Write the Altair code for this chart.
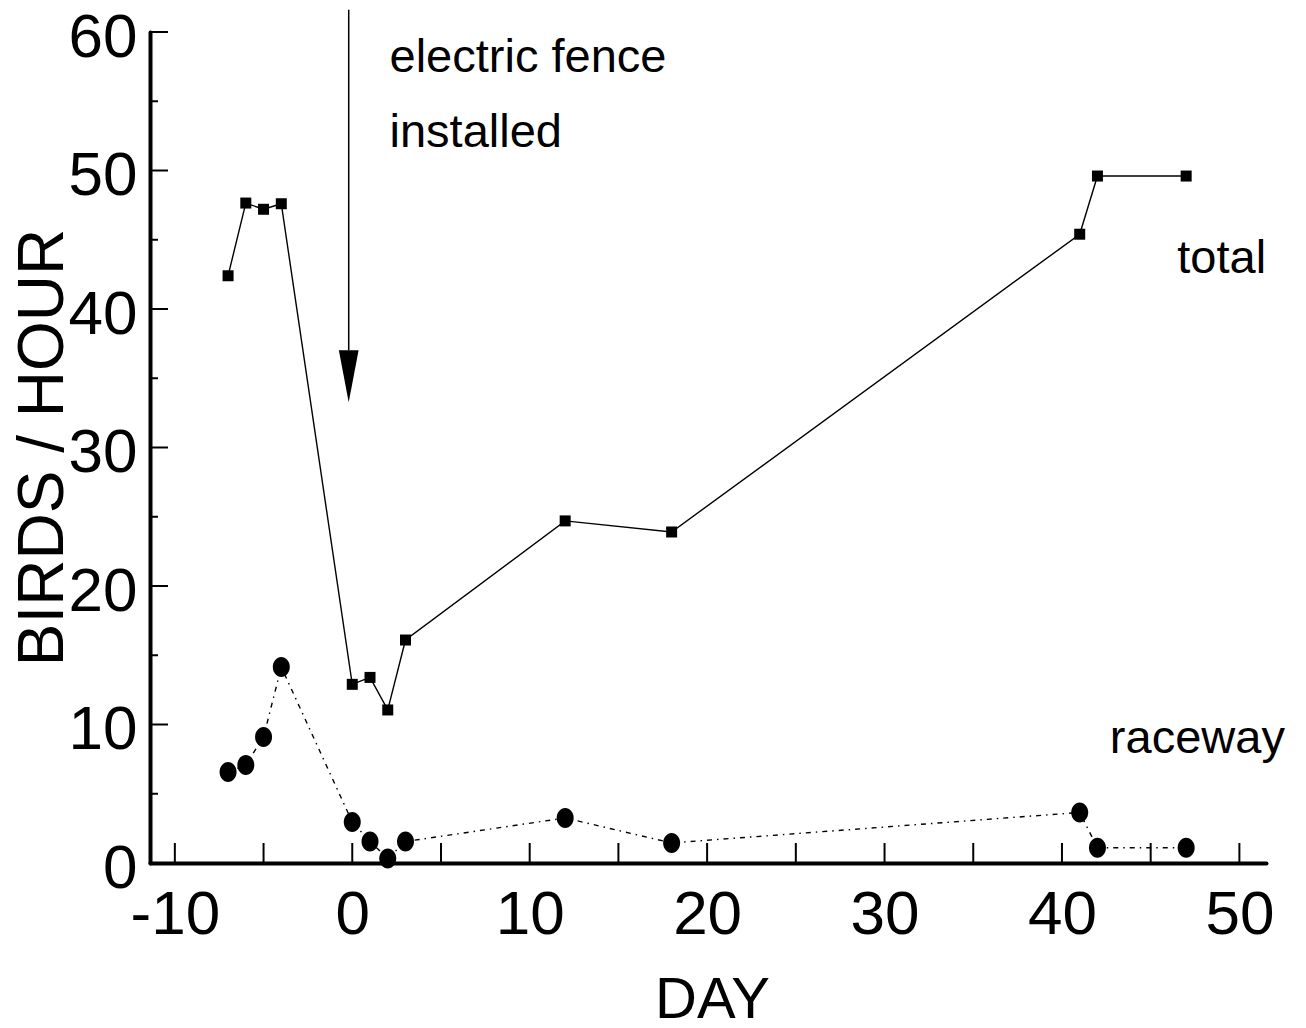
import altair as alt
import pandas as pd

# ---- data ----
days = [-7, -6, -5, -4, 0, 1, 2, 3, 12, 18, 41, 42, 47]
total = [42.4, 47.65, 47.2, 47.6, 12.9, 13.4, 11.05, 16.1, 24.7, 23.9, 45.4, 49.6, 49.6]
raceway = [6.57, 7.08, 9.1, 14.15, 2.96, 1.55, 0.33, 1.55, 3.25, 1.45, 3.65, 1.1, 1.1]

x_label_values = [-10, 0, 10, 20, 30, 40, 50]
y_label_values = [0, 10, 20, 30, 40, 50, 60]
x_tick_values = [-10, -5, 0, 5, 10, 15, 20, 25, 30, 35, 40, 45, 50]
y_major_ticks = [10, 20, 30, 40, 50, 60]
y_minor_ticks = [5, 15, 25, 35, 45, 55]

annot_text = ["electric fence", "installed", "total", "raceway"]
annot_x = [2.1, 2.1, 46.5, 42.7]
annot_y = [57.1, 51.7, 42.6, 7.94]

arrow_x = [-0.2]
arrow_top = [61.6]
arrow_head_top = [37.0]
arrow_head_mid = [35.15]

FONT = "Liberation Sans, Arial, sans-serif"

df = pd.DataFrame({"day": days, "total": total, "raceway": raceway})
xt = pd.DataFrame({"t": x_tick_values})
ymaj = pd.DataFrame({"t": y_major_ticks})
ymin = pd.DataFrame({"t": y_minor_ticks})
ann = pd.DataFrame({"text": annot_text, "x": annot_x, "y": annot_y})
arr = pd.DataFrame({"x": arrow_x, "y": arrow_top, "y2": arrow_head_top, "ym": arrow_head_mid})

xscale = alt.Scale(domain=[-11.4, 51.5], nice=False, zero=False)
yscale = alt.Scale(domain=[0, 60], nice=False, zero=False)

xaxis = alt.Axis(
    values=x_label_values, ticks=False, grid=False, labelFlush=False, labelOverlap=False,
    labelExpr="'' + datum.value",
    labelFont=FONT, labelFontSize=62, labelColor="black", labelBaseline="top", labelPadding=21,
    domainColor="black", domainWidth=4, domainCap="round",
    title="DAY", titleFont=FONT, titleFontSize=58, titleFontWeight="normal", titleColor="black",
    titleX=562, titleY=154, titleBaseline="alphabetic", titleAlign="center",
)
yaxis = alt.Axis(
    values=y_label_values, ticks=False, grid=False, labelFlush=False, labelOverlap=False,
    labelExpr="'' + datum.value",
    labelFont=FONT, labelFontSize=62, labelColor="black", labelBaseline="middle", labelPadding=13,
    labelOffset=5, labelAlign="right",
    domainColor="black", domainWidth=4, domainCap="round",
    title="BIRDS / HOUR", titleFont=FONT, titleFontSize=64, titleFontWeight="normal", titleColor="black",
    titleX=-88, titleY=415, titleAngle=270, titleBaseline="alphabetic", titleAlign="center",
)

X = lambda f: alt.X(f, scale=xscale, axis=xaxis)
Y = lambda f: alt.Y(f, scale=yscale, axis=yaxis)

base = alt.Chart(df)

total_line = base.mark_line(color="black", strokeWidth=1.4).encode(x=X("day:Q"), y=Y("total:Q"))
total_pts = base.mark_point(shape="square", filled=True, color="black", size=121, opacity=1).encode(
    x=X("day:Q"), y=Y("total:Q"))
race_line = base.mark_line(color="black", strokeWidth=1.4, strokeDash=[5, 5, 1.5, 5]).encode(
    x=X("day:Q"), y=Y("raceway:Q"))
ellipse = "M0,-1 A0.85,1 0 1,1 0,1 A0.85,1 0 1,1 0,-1 Z"
race_pts = base.mark_point(shape=ellipse, filled=True, color="black", size=400, opacity=1).encode(
    x=X("day:Q"), y=Y("raceway:Q"))

x_ticks = alt.Chart(xt).mark_rule(color="black", strokeWidth=2).encode(
    x=X("t:Q"), y=alt.value(831), y2=alt.value(811))
y_major = alt.Chart(ymaj).mark_rule(color="black", strokeWidth=2).encode(
    y=Y("t:Q"), x=alt.value(0), x2=alt.value(18))
y_minor = alt.Chart(ymin).mark_rule(color="black", strokeWidth=2).encode(
    y=Y("t:Q"), x=alt.value(0), x2=alt.value(8))

labels = alt.Chart(ann).mark_text(font=FONT, fontSize=47, align="left", baseline="alphabetic", color="black").encode(
    x=X("x:Q"), y=Y("y:Q"), text="text:N")

arrow_shaft = alt.Chart(arr).mark_rule(color="black", strokeWidth=1.5).encode(
    x=X("x:Q"), y=Y("y:Q"), y2="y2:Q")
arrow_head = alt.Chart(arr).mark_point(
    shape="M-0.38,-1L0.38,-1L0,1Z", filled=True, color="black", size=2704, opacity=1
).encode(x=X("x:Q"), y=Y("ym:Q"))

chart = alt.layer(
    total_line, race_line, x_ticks, y_major, y_minor, total_pts, race_pts,
    arrow_shaft, arrow_head, labels,
).properties(
    width=1116, height=831,
    autosize=alt.AutoSizeParams(type="none"),
    padding={"left": 142, "top": 24, "right": 30, "bottom": 157},
).configure(background="white").configure_view(stroke="transparent", strokeWidth=0)

chart.save("out.html", embed_options={"renderer": "svg", "actions": False})
